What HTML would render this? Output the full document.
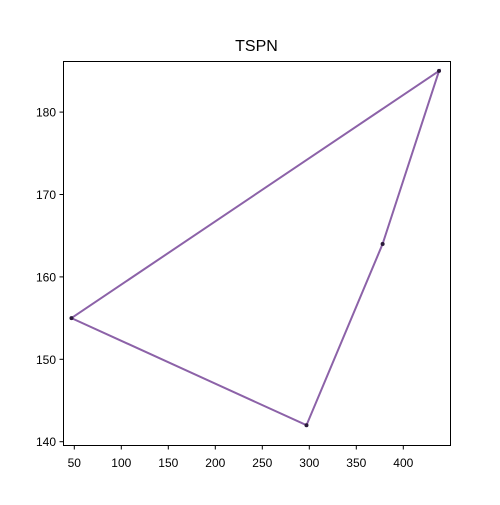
<!DOCTYPE html>
<html><head><meta charset="utf-8"><style>
body{margin:0;background:#fff;font-family:"Liberation Sans","DejaVu Sans",sans-serif}
</style></head><body>
<svg id="c" width="500" height="500" xmlns="http://www.w3.org/2000/svg">
<rect width="500" height="500" fill="#fff"/>
<text x="256.5" y="51" text-anchor="middle" font-size="16">TSPN</text>
<g id="plot"></g>
<rect x="63.5" y="61.5" width="387" height="384" fill="none" stroke="#000" stroke-width="1"/>
</svg>
<script>
const xs=[47,297,378,438];
const ys=[155,142,164,185];
const xTicks=[50,100,150,200,250,300,350,400];
const yTicks=[140,150,160,170,180];
const X=v=>27.3+v*0.94;
const Y=v=>441.7-(v-140)*8.24;
const NS="http://www.w3.org/2000/svg";
const g=document.getElementById('plot');
function mk(t,a){const e=document.createElementNS(NS,t);for(const k in a)e.setAttribute(k,a[k]);g.appendChild(e);return e;}
xTicks.forEach(v=>{
 const l=mk('line',{x1:X(v),x2:X(v),y1:445.5,y2:449.5,stroke:'#000'});
 
 
 const t=mk('text',{x:X(v),y:467,'text-anchor':'middle','font-size':'12'});t.textContent=v;
 
 
});
yTicks.forEach(v=>{
 const l=mk('line',{x1:59.5,x2:63.5,y1:Y(v),y2:Y(v),stroke:'#000'});
 
 
 const t=mk('text',{x:56,y:Y(v)+4.5,'text-anchor':'end','font-size':'12'});t.textContent=v;
 
 
});
const pts=xs.map((x,i)=>X(x)+','+Y(ys[i]));
pts.push(pts[0]);
const p=mk('polyline',{points:pts.join(' '),fill:'none',stroke:'#8c62a8','stroke-width':'2'});


xs.forEach((x,i)=>{
 const c=mk('circle',{cx:X(x),cy:Y(ys[i]),r:2,fill:'#2a1a3a'});
 
 
});
</script>
</body></html>
